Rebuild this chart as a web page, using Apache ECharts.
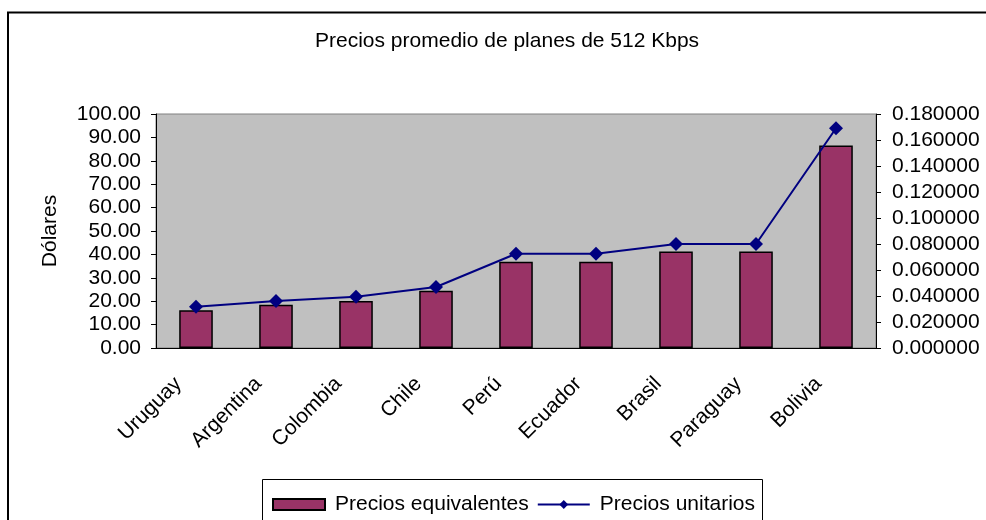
<!doctype html>
<meta charset="utf-8">
<title>Precios promedio</title>
<style>
	body { margin: 0; background: #fff; }
	#chart { width: 986px; height: 520px; }
</style>
<div id="chart"></div>
<script src="https://cdn.jsdelivr.net/npm/echarts@6/dist/echarts.min.js"></script>
<script>
	const paises = ['Uruguay', 'Argentina', 'Colombia', 'Chile', 'Perú', 'Ecuador', 'Brasil', 'Paraguay', 'Bolivia'];
	const preciosEquivalentes = [16.1, 18.5, 20.1, 24.5, 36.9, 36.9, 41.2, 41.2, 86.5];
	const preciosUnitarios = [0.0318, 0.0362, 0.0395, 0.0469, 0.0725, 0.0725, 0.0800, 0.0800, 0.1690];

	const fuente = 'Liberation Sans, Arial, sans-serif';
	const texto = { fontFamily: fuente, fontSize: 21, color: '#000' };

	var chart = echarts.init(document.getElementById('chart'));
	chart.setOption({
		animation: false,
		title: {
			text: 'Precios promedio de planes de 512 Kbps',
			left: 310, top: 26,
			textStyle: { fontFamily: fuente, fontSize: 21, fontWeight: 'normal', color: '#000' }
		},
		graphic: [
			{ type: 'rect', shape: { x: 8, y: 12.5, width: 1200, height: 800 }, style: { fill: 'none', stroke: '#000', lineWidth: 2 } },
			{ type: 'rect', shape: { x: 262.5, y: 479.5, width: 500, height: 100 }, style: { fill: 'none', stroke: '#000', lineWidth: 1 } }
		],
		legend: {
			left: 267, top: 489,
			itemWidth: 52, itemHeight: 11, itemGap: 8,
			textStyle: Object.assign({ padding: [0, 0, 0, 5] }, texto),
			data: [{ name: 'Precios equivalentes', icon: 'rect' }, { name: 'Precios unitarios' }]
		},
		grid: {
			left: 156, right: 110, top: 114, bottom: 172,
			show: true, backgroundColor: '#C0C0C0', borderColor: '#808080', borderWidth: 1
		},
		xAxis: {
			type: 'category',
			data: paises,
			axisLine: { lineStyle: { color: '#000', width: 1 } },
			axisTick: { length: 5, lineStyle: { color: '#000' } },
			axisLabel: Object.assign({ rotate: 45, margin: 15, interval: 0, padding: [0, 25, 0, 0] }, texto)
		},
		yAxis: [{
			type: 'value', min: 0, max: 100, interval: 10,
			name: 'Dólares', nameLocation: 'middle', nameGap: 95, nameRotate: 90,
			nameTextStyle: texto,
			axisLine: { show: true, lineStyle: { color: '#000' } },
			axisTick: { show: true, length: 5, lineStyle: { color: '#000' } },
			splitLine: { show: false },
			axisLabel: Object.assign({ margin: 15, formatter: v => v.toFixed(2) }, texto)
		}, {
			type: 'value', min: 0, max: 0.18, interval: 0.02, position: 'right',
			axisLine: { show: true, lineStyle: { color: '#000' } },
			axisTick: { show: true, length: 5, lineStyle: { color: '#000' } },
			splitLine: { show: false },
			axisLabel: Object.assign({ margin: 16, formatter: v => v.toFixed(6) }, texto)
		}],
		series: [{
			name: 'Precios equivalentes',
			type: 'bar',
			data: preciosEquivalentes,
			barWidth: '42%',
			itemStyle: { color: '#993366', borderColor: '#000', borderWidth: 1.5 }
		}, {
			name: 'Precios unitarios',
			type: 'line',
			yAxisIndex: 1,
			data: preciosUnitarios,
			symbol: 'diamond', symbolSize: 14,
			lineStyle: { color: '#000080', width: 2 },
			itemStyle: { color: '#000080' }
		}]
	});
</script>
